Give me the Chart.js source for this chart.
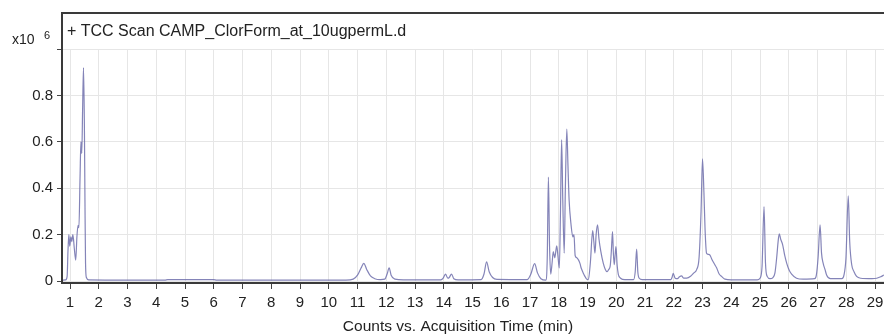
<!DOCTYPE html>
<html>
<head>
<meta charset="utf-8">
<script src="https://cdn.jsdelivr.net/npm/chart.js@4/dist/chart.umd.min.js"></script>
<style>
  html, body { margin: 0; padding: 0; background: #ffffff; }
  #wrap { width: 884px; height: 335px; position: relative; }
</style>
</head>
<body>
<div id="wrap"><canvas id="c" width="884" height="335"></canvas></div>
<script>
// ---- Data ----
const chartTitle = "+ TCC Scan CAMP_ClorForm_at_10ugpermL.d";
const xAxisTitle = "Counts vs. Acquisition Time (min)";
const yScaleLabel = "x10";
const yScaleExponent = "6";
const xTicks = [1,2,3,4,5,6,7,8,9,10,11,12,13,14,15,16,17,18,19,20,21,22,23,24,25,26,27,28,29];
const yTicks = [0, 0.2, 0.4, 0.6, 0.8, 1.0];
const yTickLabels = ["0", "0.2", "0.4", "0.6", "0.8", ""];

// acquisition time (min)
const timeMin = [
  0.72,0.85,0.90,0.93,0.96,0.99,1.03,1.06,1.10,1.15,1.20,1.24,1.28,1.31,1.35,1.38,1.41,1.44,1.47,1.50,1.52,1.54,1.57,1.65,
  3.0,4.3,4.4,6.0,6.1,10.6,
  10.85,11.0,11.12,11.22,11.32,11.45,11.6,11.8,11.95,12.03,12.1,12.17,12.3,12.6,
  13.9,13.98,14.06,14.14,14.19,14.27,14.35,14.5,
  15.3,15.4,15.49,15.58,15.7,15.85,
  16.9,17.03,17.16,17.26,17.38,17.55,
  17.6,17.64,17.68,17.72,17.77,17.81,17.86,17.93,17.97,18.02,18.06,18.10,18.14,18.19,18.23,18.28,18.32,18.36,
  18.43,18.49,18.53,18.57,18.63,18.69,18.74,18.78,18.85,18.91,18.97,19.03,
  19.10,19.18,19.22,19.26,19.30,19.35,19.40,19.46,19.55,19.62,19.68,19.74,19.79,19.83,19.87,19.90,19.93,19.96,19.99,
  20.03,20.07,20.15,20.3,20.6,20.66,20.71,20.75,20.8,20.9,
  21.9,21.94,21.98,22.05,22.13,22.2,22.27,22.35,22.45,22.6,22.7,22.8,22.88,22.95,
  23.0,23.05,23.09,23.14,23.2,23.26,23.32,23.37,23.43,23.49,23.58,23.67,23.78,24.0,
  24.9,25.0,25.07,25.14,25.19,25.25,25.35,25.45,25.52,25.58,25.63,25.67,25.72,25.79,25.86,25.93,26.02,26.1,26.27,26.5,
  26.9,26.96,27.02,27.09,27.14,27.2,27.26,27.32,27.45,
  27.85,27.92,27.99,28.07,28.12,28.19,28.27,28.36,28.5,28.9,29.06,29.2,29.31
];
// counts (x10^6)
const countsE6 = [
  0.004,0.005,0.02,0.13,0.20,0.15,0.19,0.17,0.20,0.14,0.09,0.19,0.24,0.23,0.45,0.60,0.55,0.75,0.92,0.68,0.35,0.08,0.015,0.005,
  0.004,0.004,0.006,0.006,0.004,0.004,
  0.008,0.025,0.055,0.076,0.05,0.022,0.01,0.006,0.008,0.03,0.057,0.025,0.008,0.005,
  0.005,0.012,0.03,0.012,0.015,0.03,0.01,0.005,
  0.006,0.03,0.083,0.04,0.015,0.007,
  0.006,0.03,0.075,0.035,0.01,0.004,
  0.1,0.448,0.15,0.03,0.08,0.127,0.10,0.151,0.11,0.056,0.3,0.609,0.35,0.12,0.4,0.655,0.5,0.35,
  0.24,0.19,0.2,0.11,0.1,0.09,0.075,0.056,0.035,0.02,0.008,0.006,
  0.08,0.217,0.17,0.12,0.2,0.242,0.18,0.13,0.076,0.05,0.04,0.05,0.065,0.13,0.213,0.12,0.07,0.11,0.148,
  0.07,0.03,0.012,0.006,0.006,0.04,0.137,0.04,0.012,0.006,
  0.006,0.015,0.033,0.012,0.01,0.018,0.022,0.012,0.012,0.022,0.035,0.05,0.1,0.3,
  0.526,0.38,0.22,0.12,0.115,0.112,0.095,0.083,0.07,0.057,0.03,0.019,0.008,0.005,
  0.005,0.012,0.06,0.321,0.08,0.02,0.01,0.015,0.035,0.1,0.17,0.203,0.18,0.155,0.11,0.076,0.045,0.03,0.012,0.008,
  0.01,0.025,0.1,0.242,0.12,0.075,0.05,0.025,0.01,
  0.01,0.025,0.1,0.367,0.17,0.07,0.04,0.02,0.012,0.01,0.012,0.018,0.026
];

const points = timeMin.map((t, i) => ({ x: t, y: countsE6[i] }));

const FONT = "'Liberation Sans', Arial, Helvetica, sans-serif";

const framePlugin = {
  id: 'framePlugin',
  afterDraw(chart) {
    const ctx = chart.ctx;
    const a = chart.chartArea;
    const frameTop = a.top - 36;
    ctx.save();
    ctx.strokeStyle = '#3a3a3a';
    ctx.lineWidth = 2;
    ctx.beginPath();
    ctx.moveTo(a.left, a.bottom);
    ctx.lineTo(a.left, frameTop);
    ctx.lineTo(chart.width, frameTop);
    ctx.stroke();
    // header
    ctx.fillStyle = '#222';
    ctx.textBaseline = 'middle';
    ctx.textAlign = 'left';
    ctx.font = "16px " + FONT;
    ctx.fillText(chartTitle, a.left + 5, frameTop + 19);
    // exponent label
    ctx.font = "14px " + FONT;
    ctx.fillText(yScaleLabel, 12, frameTop + 27);
    ctx.font = "11px " + FONT;
    ctx.fillText(yScaleExponent, 44, frameTop + 23);
    // x axis title
    ctx.font = "15.5px " + FONT;
    ctx.textAlign = 'center';
    ctx.fillText(xAxisTitle, a.left + 396, chart.height - 8);
    ctx.restore();
  }
};

new Chart(document.getElementById('c'), {
  type: 'line',
  data: {
    datasets: [{
      data: points,
      borderColor: 'rgba(110,110,172,0.85)',
      borderWidth: 1.2,
      pointRadius: 0,
      fill: false,
      cubicInterpolationMode: 'monotone'
    }]
  },
  options: {
    responsive: false,
    animation: false,
    layout: { padding: { top: 49, right: 0, left: 0, bottom: 0 } },
    plugins: { legend: { display: false }, tooltip: { enabled: false }, title: { display: false } },
    scales: {
      x: {
        type: 'linear',
        min: 0.7217,
        max: 29.313,
        afterBuildTicks: s => { s.ticks = xTicks.map(v => ({ value: v })); },
        afterFit: s => { s.height = 52; s.paddingRight = 0; s.paddingLeft = 0; },
        ticks: {
          autoSkip: false,
          maxRotation: 0,
          padding: 5,
          color: '#222',
          font: { family: FONT, size: 15 },
          callback: v => String(v)
        },
        grid: { color: '#e6e6e6', lineWidth: 1, tickLength: 6, tickColor: '#444', tickWidth: 1 },
        border: { display: true, color: '#3a3a3a', width: 2 }
      },
      y: {
        type: 'linear',
        min: -0.0086,
        max: 1.0,
        afterBuildTicks: s => { s.ticks = yTicks.map(v => ({ value: v })); },
        afterFit: s => { s.width = 62; },
        ticks: {
          padding: 4,
          color: '#222',
          font: { family: FONT, size: 15 },
          callback: (v) => { const i = yTicks.indexOf(v); return i >= 0 ? yTickLabels[i] : ''; }
        },
        grid: { color: '#e6e6e6', lineWidth: 1, tickLength: 5, tickColor: '#444', tickWidth: 1 },
        border: { display: true, color: '#3a3a3a', width: 2 }
      }
    }
  },
  plugins: [framePlugin]
});
</script>
</body>
</html>
